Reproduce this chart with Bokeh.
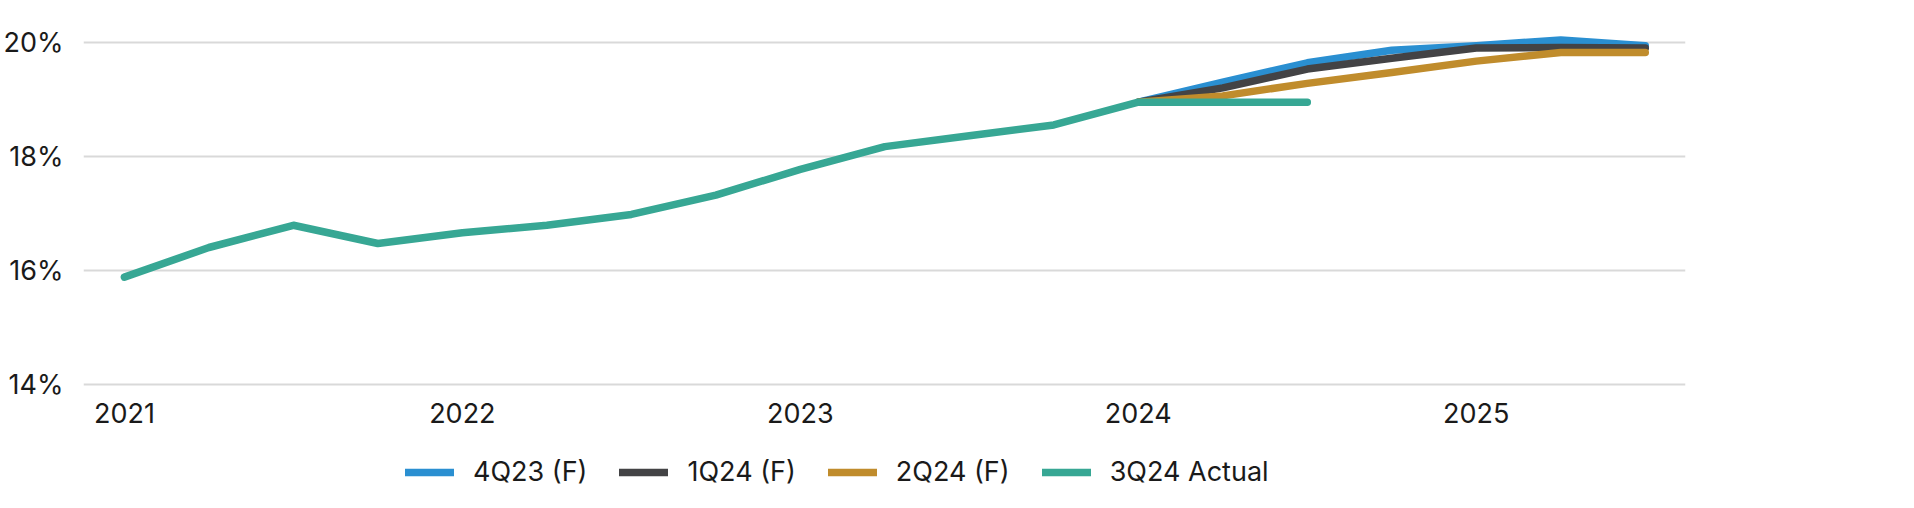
from bokeh.plotting import figure
from bokeh.models import FixedTicker, PrintfTickFormatter, Legend, LegendItem, Range1d
from bokeh.core.properties import value
from bokeh.embed import file_html
from bokeh.resources import INLINE

# ---- data ----
quarters = ["1Q21", "2Q21", "3Q21", "4Q21", "1Q22", "2Q22", "3Q22", "4Q22",
            "1Q23", "2Q23", "3Q23", "4Q23", "1Q24", "2Q24", "3Q24", "4Q24",
            "1Q25", "2Q25", "3Q25"]
actual_3q24 = [15.88, 16.40, 16.79, 16.47, 16.66, 16.79, 16.98, 17.32,
               17.77, 18.17, 18.36, 18.55, 18.95, 18.95, 18.95]
forecast_quarters = ["1Q24", "2Q24", "3Q24", "4Q24", "1Q25", "2Q25", "3Q25"]
f_4q23 = [18.95, 19.30, 19.64, 19.86, 19.94, 20.04, 19.94]
f_1q24 = [18.95, 19.20, 19.53, 19.72, 19.90, 19.91, 19.90]
f_2q24 = [18.95, 19.06, 19.28, 19.47, 19.67, 19.82, 19.82]
year_ticks = [2021, 2022, 2023, 2024, 2025]
year_labels = ["2021", "2022", "2023", "2024", "2025"]
pct_ticks = [14, 16, 18, 20]
series_names = ["4Q23 (F)", "1Q24 (F)", "2Q24 (F)", "3Q24 Actual"]


def qx(label):
    q = int(label[0])
    yr = 2000 + int(label[2:])
    return yr + (q - 1) / 4.0


x_actual = [qx(q) for q in quarters[:len(actual_3q24)]]
x_fc = [qx(q) for q in forecast_quarters]

FONT = "Inter"
colors = ["#2a8fd1", "#434345", "#c08c2c", "#37a794"]
LW = 7.5
y_min = min(pct_ticks)

p = figure(width=1906, height=508, output_backend="svg", toolbar_location=None,
           x_range=Range1d(2020.879, 2025.619), y_range=Range1d(11.821, 20.593),
           x_axis_location=None,
           min_border_left=78, min_border_right=221, min_border_top=8,
           min_border_bottom=0)
p.outline_line_color = None
p.background_fill_color = "white"

r1 = p.line(x_fc, f_4q23, line_color=colors[0], line_width=LW, line_cap="round", line_join="round")
r2 = p.line(x_fc, f_1q24, line_color=colors[1], line_width=LW, line_cap="round", line_join="round")
r3 = p.line(x_fc, f_2q24, line_color=colors[2], line_width=LW, line_cap="round", line_join="round")
r4 = p.line(x_actual, actual_3q24, line_color=colors[3], line_width=LW, line_cap="round", line_join="round")

# x tick labels (years) under the 14% baseline
p.text(x=year_ticks, y=[y_min] * len(year_ticks), text=year_labels,
       text_align="center", text_baseline="middle", y_offset=29,
       text_font=value(FONT), text_font_size="27px", text_color="#1a1a1a")

# y axis
ax = p.yaxis[0]
ax.ticker = FixedTicker(ticks=pct_ticks)
ax.formatter = PrintfTickFormatter(format="%d%%")
ax.axis_line_color = None
ax.major_tick_line_color = None
ax.minor_tick_line_color = None
ax.major_tick_out = 0
ax.major_tick_in = 0
ax.major_label_text_font = FONT
ax.major_label_text_font_size = "27px"
ax.major_label_text_color = "#1a1a1a"
ax.major_label_standoff = 20

p.xgrid.grid_line_color = None
p.ygrid.ticker = FixedTicker(ticks=pct_ticks)
p.ygrid.grid_line_color = "#d9d9d9"
p.ygrid.grid_line_width = 2

legend = Legend(items=[LegendItem(label=series_names[0], renderers=[r1]),
                       LegendItem(label=series_names[1], renderers=[r2]),
                       LegendItem(label=series_names[2], renderers=[r3]),
                       LegendItem(label=series_names[3], renderers=[r4])],
                orientation="horizontal", location=(322, 20),
                glyph_width=49, glyph_height=30, label_height=30,
                label_standoff=19, spacing=32, padding=0, margin=0,
                border_line_color=None, background_fill_alpha=0,
                label_text_font=FONT, label_text_font_size="27px",
                label_text_color="#1a1a1a")
p.add_layout(legend, "center")

open("out.html", "w").write(file_html(p, INLINE))
